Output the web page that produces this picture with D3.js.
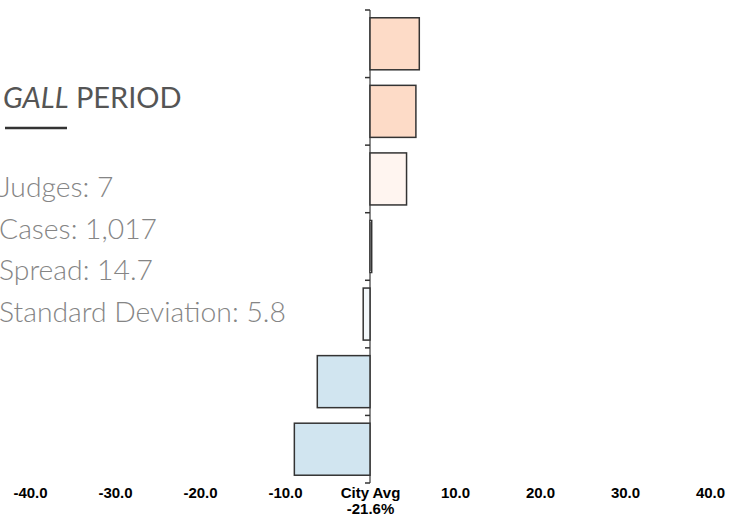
<!DOCTYPE html>
<html>
<head>
<meta charset="utf-8">
<script src="https://cdn.jsdelivr.net/npm/d3@7"></script>
<style>
  html, body { margin: 0; padding: 0; background: #fff; }
  svg { display: block; }
</style>
</head>
<body>
<svg id="chart" width="736" height="527"></svg>
<script>
// ---- data ----
const judges = ["Judge 1", "Judge 2", "Judge 3", "Judge 4", "Judge 5", "Judge 6", "Judge 7"];
const deviations = [5.8, 5.4, 4.3, 0.2, -0.8, -6.2, -8.9];
const barFills = ["#fddbc7", "#fddbc7", "#fff5f0", "#fbfbfb", "#f3f8fb", "#d1e5f0", "#d1e5f0"];
const tickValues = [-40, -30, -20, -10, 0, 10, 20, 30, 40];
const cityAvgLabel = "City Avg";
const cityAvgValue = "-21.6%";
const titleItalic = "GALL";
const titleRest = " PERIOD";
const statLines = ["Judges: 7", "Cases: 1,017", "Spread: 14.7", "Standard Deviation: 5.8"];

// ---- chart ----
const svg = d3.select("#chart");
const x = d3.scaleLinear().domain([-40, 40]).range([30, 710]);
const y = d3.scaleBand().domain(judges).range([10, 483]).paddingInner(0.23).paddingOuter(0.115);

// title
const title = svg.append("text")
  .attr("x", 3).attr("y", 108)
  .attr("font-family", "Lato, 'Open Sans', sans-serif")
  .attr("font-size", 29)
  .attr("fill", "#555");
title.append("tspan").attr("font-style", "italic").text(titleItalic);
title.append("tspan").text(titleRest);

svg.append("line")
  .attr("x1", 5).attr("x2", 67).attr("y1", 128).attr("y2", 128)
  .attr("stroke", "#333").attr("stroke-width", 2.5);

svg.append("g").selectAll("text").data(statLines).join("text")
  .attr("x", -1)
  .attr("y", (d, i) => 197 + i * 41.5)
  .attr("font-family", "Lato, 'Open Sans', sans-serif")
  .attr("font-weight", 300)
  .attr("font-size", 28.3)
  .attr("fill", "#858585")
  .text(d => d);

// axis line at zero
const x0 = x(0);
svg.append("line")
  .attr("x1", x0).attr("x2", x0).attr("y1", 10).attr("y2", 483)
  .attr("stroke", "#888").attr("stroke-width", 2);

// band boundary ticks
const step = y.step();
svg.append("g").selectAll("line").data(d3.range(judges.length + 1)).join("line")
  .attr("x1", x0 - 5).attr("x2", x0)
  .attr("y1", i => 10 + i * step).attr("y2", i => 10 + i * step)
  .attr("stroke", "#333").attr("stroke-width", 1.5);

// bars
svg.append("g").selectAll("rect").data(deviations).join("rect")
  .attr("x", d => Math.min(x(d), x0))
  .attr("y", (d, i) => y(judges[i]))
  .attr("width", d => Math.abs(x(d) - x0))
  .attr("height", y.bandwidth())
  .attr("fill", (d, i) => barFills[i])
  .attr("stroke", "#333")
  .attr("stroke-width", 1.5);

// x axis labels
const fmt = d3.formatLocale({decimal: ".", thousands: ",", grouping: [3], currency: ["", ""], minus: "-"}).format(".1f");
const axis = d3.axisBottom(x)
  .tickValues(tickValues)
  .tickSize(0)
  .tickPadding(0)
  .tickFormat(d => d === 0 ? cityAvgLabel : fmt(d));
const gx = svg.append("g").attr("transform", "translate(0,487)").call(axis);
gx.select(".domain").remove();
gx.selectAll("text")
  .attr("font-family", "'Liberation Sans', Arial, sans-serif")
  .attr("font-weight", "bold")
  .attr("font-size", 15)
  .attr("fill", "#000")
  .attr("dy", "0.71em");
gx.selectAll(".tick").filter(d => d === 0).append("text")
  .attr("y", 16)
  .attr("dy", "0.71em")
  .attr("text-anchor", "middle")
  .attr("font-family", "'Liberation Sans', Arial, sans-serif")
  .attr("font-weight", "bold")
  .attr("font-size", 15)
  .attr("fill", "#000")
  .text(cityAvgValue);
</script>
</body>
</html>
